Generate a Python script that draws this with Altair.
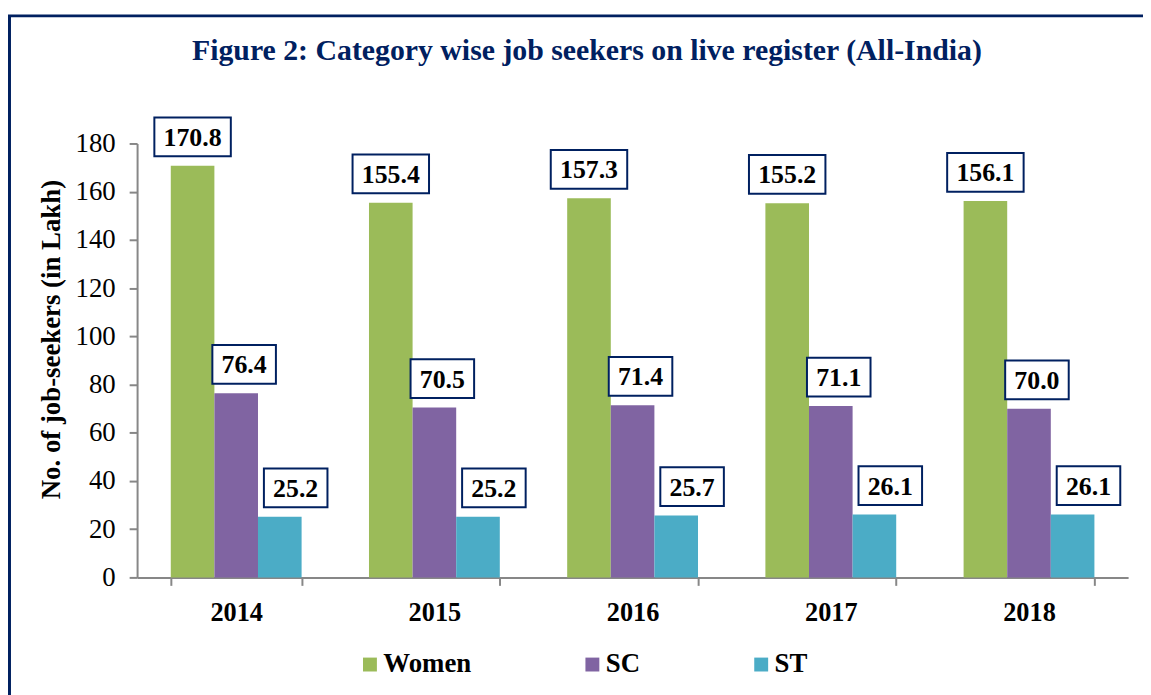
import altair as alt
import pandas as pd

years = ["2014", "2015", "2016", "2017", "2018"]
series = ["Women", "SC", "ST"]
women = [170.8, 155.4, 157.3, 155.2, 156.1]
sc = [76.4, 70.5, 71.4, 71.1, 70.0]
st = [25.2, 25.2, 25.7, 26.1, 26.1]

colors = ["#9BBB59", "#8064A2", "#4BACC6"]
NAVY = "#002060"
FONT = "Times New Roman, Liberation Serif, serif"

rows = []
for s, vals in zip(series, [women, sc, st]):
    for y, v in zip(years, vals):
        rows.append({"Year": y, "Category": s, "Value": v, "Label": f"{v:.1f}"})
df = pd.DataFrame(rows)

W, H = 998, 437

x_enc = alt.X("Year:N", sort=years,
              scale=alt.Scale(paddingInner=0.34, paddingOuter=0.17),
              axis=alt.Axis(title=None, labelFont=FONT, labelFontSize=26.5, labelFontWeight="bold",
                            labelColor="black", labelAngle=0, tickBand="extent", tickSize=8,
                            tickWidth=2, tickColor="#878787", domainColor="#878787",
                            domainWidth=2, labelPadding=14))
xo_enc = alt.XOffset("Category:N", sort=series,
                     scale=alt.Scale(paddingInner=0, paddingOuter=0))
y_enc = alt.Y("Value:Q", scale=alt.Scale(domain=[0, 180], nice=False),
              axis=alt.Axis(title="No. of job-seekers (in Lakh)", values=list(range(0, 181, 20)),
                            grid=False, labelFont=FONT, labelFontSize=27, labelColor="black",
                            tickSize=8, tickWidth=2, tickColor="#878787", domainColor="#878787",
                            domainWidth=2, labelPadding=14, titleFont=FONT, titleFontSize=27,
                            titleFontWeight="bold", titleColor="black", titleX=-86, titleY=197,
                            titleBaseline="middle"))
color_enc = alt.Color("Category:N", sort=series,
                      scale=alt.Scale(domain=series, range=colors),
                      legend=alt.Legend(title=None, orient="none", direction="horizontal",
                                        legendX=221, legendY=511, symbolType="square",
                                        symbolSize=196, symbolStrokeWidth=0,
                                        labelFont=FONT, labelFontSize=27, labelFontWeight="bold",
                                        labelColor="black", labelOffset=0, columnPadding=108))

base = alt.Chart(df)
bars = base.mark_bar().encode(x=x_enc, xOffset=xo_enc, y=y_enc, color=color_enc)

frame = alt.Chart(alt.Data(values=[{"a": 1}])).mark_rect(
    fillOpacity=0, stroke=NAVY, strokeWidth=3
).encode(x=alt.value(-128.5), y=alt.value(-128.5), x2=alt.value(1400), y2=alt.value(900))

layers = [frame, bars]
box_w = {"Women": 77, "SC": 64, "ST": 64}
shift = {"Women": 0, "SC": 8, "ST": 16}
for s in series:
    hw = box_w[s] / 2
    d = shift[s]
    path = f"M{d - hw},-48.5L{d + hw},-48.5L{d + hw},-9.5L{d - hw},-9.5Z"
    sub = base.transform_filter(alt.datum.Category == s)
    box = sub.mark_point(shape=path, size=4, filled=True, fill="white", stroke=NAVY,
                         strokeWidth=2, opacity=1).encode(
        x=alt.X("Year:N", sort=years), xOffset=alt.XOffset("Category:N", sort=series),
        y="Value:Q")
    txt = sub.mark_text(font=FONT, fontSize=26, fontWeight="bold", color="black",
                        baseline="middle", dx=d, dy=-28).encode(
        x=alt.X("Year:N", sort=years), xOffset=alt.XOffset("Category:N", sort=series),
        y="Value:Q", text="Label:N")
    layers += [box, txt]

chart = alt.layer(*layers).properties(
    width=W, height=H,
    title=alt.TitleParams("Figure 2: Category wise job seekers on live register (All-India)",
                          font=FONT, fontSize=30, fontWeight="bold", color=NAVY,
                          anchor="middle", dx=-46, dy=72, offset=20),
    autosize=alt.AutoSizeParams(type="none"),
    padding={"left": 130, "top": 134, "right": 15, "bottom": 116},
    background="white",
).configure_view(stroke=None)

chart.save("out.html", embed_options={"renderer": "svg", "actions": False})
